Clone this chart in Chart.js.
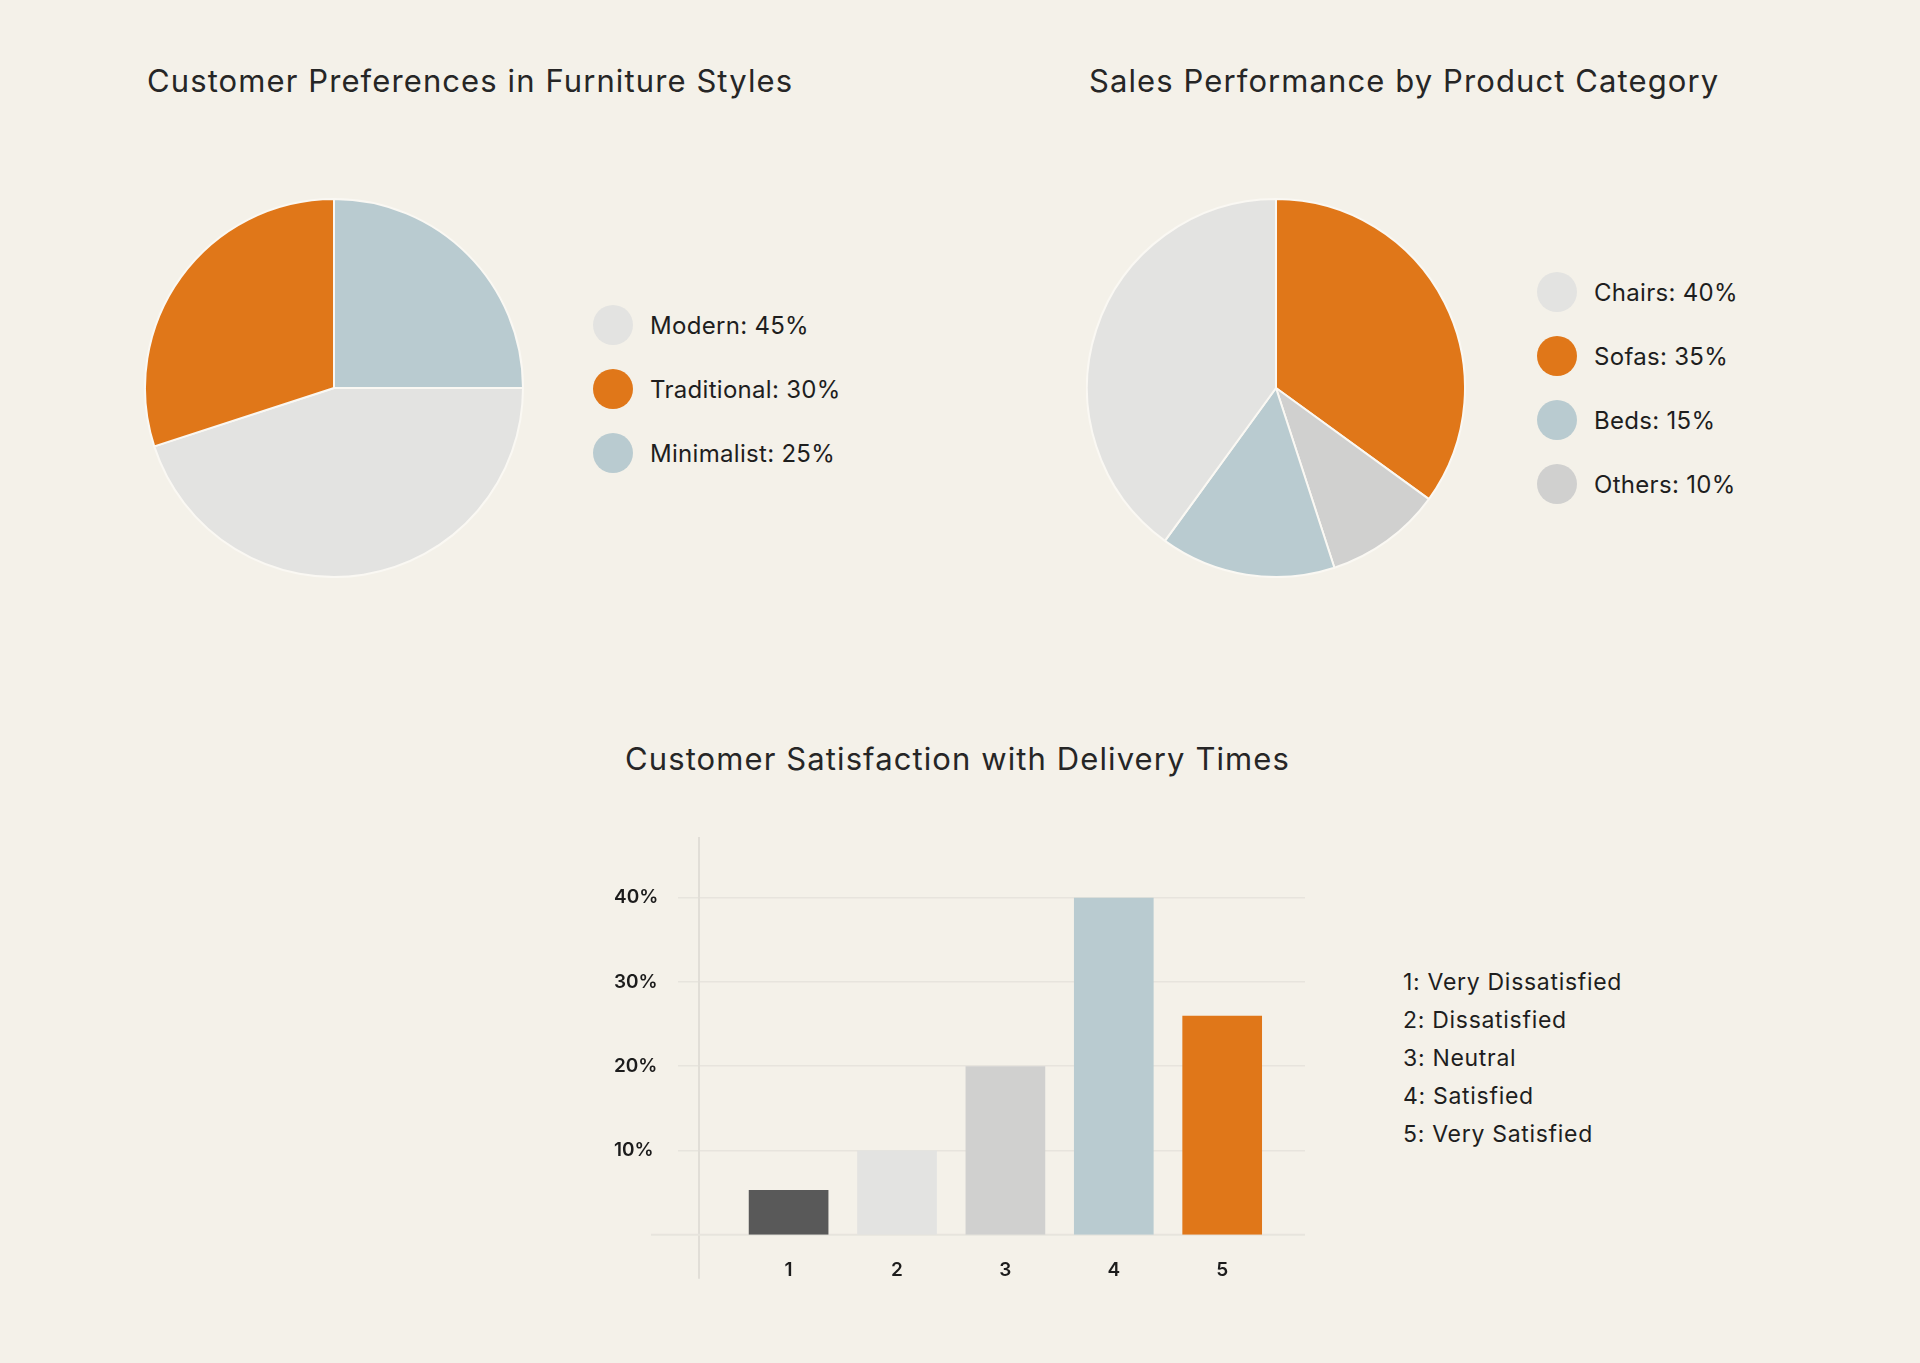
<!DOCTYPE html>
<html>
<head>
<meta charset="utf-8">
<title>Furniture Customer Insights</title>
<script src="https://cdn.jsdelivr.net/npm/chart.js@4.4.1/dist/chart.umd.min.js"></script>
<style>
    html, body { margin: 0; padding: 0; }
    body {
        width: 1920px; height: 1363px; position: relative; overflow: hidden;
        background: #f4f1e9; color: #1e1e1e;
        font-family: Inter, "Noto Sans", sans-serif;
    }
    .title { position: absolute; font-size: 31px; letter-spacing: 1.1px; line-height: 40px; color: #262626; white-space: nowrap; }
    .chart-box { position: absolute; }
    .legend { position: absolute; }
    .legend-item { display: flex; align-items: center; height: 40px; margin-bottom: 24px; font-size: 24px; letter-spacing: 0.3px; white-space: nowrap; }
    .legend-dot { width: 40px; height: 40px; border-radius: 50%; margin-right: 17px; flex: none; }
    .text-legend { position: absolute; font-size: 23px; letter-spacing: 0.7px; line-height: 38px; white-space: nowrap; }
</style>
</head>
<body>

<div class="title" style="left:147px; top:61px;">Customer Preferences in Furniture Styles</div>
<div class="chart-box" style="left:144px; top:198px;"><canvas id="cvStyles" width="380" height="380"></canvas></div>
<div class="legend" id="lgStyles" style="left:593px; top:305px;"></div>

<div class="title" style="left:1089px; top:61px;">Sales Performance by Product Category</div>
<div class="chart-box" style="left:1086px; top:198px;"><canvas id="cvCategories" width="380" height="380"></canvas></div>
<div class="legend" id="lgCategories" style="left:1537px; top:272px;"></div>

<div class="title" style="left:625px; top:739px;">Customer Satisfaction with Delivery Times</div>
<div class="chart-box" style="left:600px; top:820px;"><canvas id="cvSatisfaction" width="720" height="480"></canvas></div>
<div class="text-legend" id="lgSatisfaction" style="left:1403px; top:963px;"></div>

<script>
// furniture styles
const styleLabels = ['Modern', 'Traditional', 'Minimalist'];
const styleShares = [45, 30, 25];
const styleColors = ['#e3e3e1', '#e07719', '#b9cbd0'];

// product categories (legend order)
const categoryLabels = ['Chairs', 'Sofas', 'Beds', 'Others'];
const categoryShares = [40, 35, 15, 10];
const categoryColors = ['#e3e3e1', '#e07719', '#b9cbd0', '#d0d0cf'];
// order the slices go round the pie, clockwise from 12 o'clock
const categoryDrawOrder = [1, 3, 2, 0];

// delivery satisfaction
const satisfactionLevels = [1, 2, 3, 4, 5];
const satisfactionNames = ['Very Dissatisfied', 'Dissatisfied', 'Neutral', 'Satisfied', 'Very Satisfied'];
const satisfactionShares = [5.3, 10, 20, 40, 26];
const satisfactionColors = ['#595959', '#e3e3e1', '#d0d0cf', '#b9cbd0', '#e07719'];
const satisfactionTicks = [10, 20, 30, 40];

const GRID_COLOR = '#e7e4dd';
const AXIS_COLOR = '#e1ded7';

Chart.defaults.font.family = 'Inter, "Noto Sans", sans-serif';
Chart.defaults.color = '#1e1e1e';
Chart.defaults.animation = false;

function buildLegend(containerId, labels, values, colors) {
    let container = document.getElementById(containerId);
    labels.forEach((label, i) => {
        let item = document.createElement('div');
        item.classList.add('legend-item');
        let dot = document.createElement('span');
        dot.classList.add('legend-dot');
        dot.style.background = colors[i];
        let text = document.createElement('span');
        text.textContent = label + ': ' + values[i] + '%';
        item.appendChild(dot);
        item.appendChild(text);
        container.appendChild(item);
    });
}

function drawPie(canvasId, labels, values, colors, rotation) {
    return new Chart(document.getElementById(canvasId), {
        type: 'pie',
        data: {
            labels: labels,
            datasets: [{
                data: values,
                backgroundColor: colors,
                borderColor: '#faf8f3',
                borderWidth: 2,
                hoverOffset: 0
            }]
        },
        options: {
            responsive: false,
            rotation: rotation,
            layout: { padding: 0 },
            plugins: {
                legend: { display: false },
                tooltip: { enabled: false }
            }
        }
    });
}

// axis line and baseline of the bar chart stick out past the plot area
const axisLines = {
    id: 'axisLines',
    beforeDatasetsDraw(chart) {
        const { ctx, chartArea, scales } = chart;
        const y0 = scales.y.getPixelForValue(0);
        ctx.save();
        ctx.strokeStyle = AXIS_COLOR;
        ctx.lineWidth = 2;
        ctx.beginPath();
        ctx.moveTo(chartArea.left, chartArea.top);
        ctx.lineTo(chartArea.left, chartArea.bottom + 44);
        ctx.stroke();
        ctx.strokeStyle = GRID_COLOR;
        ctx.beginPath();
        ctx.moveTo(chartArea.left - 48, y0);
        ctx.lineTo(chartArea.right, y0);
        ctx.stroke();
        ctx.restore();
    }
};

function drawSatisfaction() {
    let points = satisfactionLevels.map((level, i) => ({ x: level, y: satisfactionShares[i] }));
    return new Chart(document.getElementById('cvSatisfaction'), {
        type: 'bar',
        data: {
            datasets: [{
                data: points,
                backgroundColor: satisfactionColors,
                borderWidth: 0,
                barPercentage: 0.735,
                categoryPercentage: 1
            }]
        },
        options: {
            responsive: false,
            layout: { padding: { left: 14, right: 15, top: 17, bottom: 0 } },
            plugins: {
                legend: { display: false },
                tooltip: { enabled: false }
            },
            scales: {
                x: {
                    type: 'linear',
                    offset: false,
                    min: 0.1734,
                    max: 5.764,
                    grid: { display: false, offset: false },
                    border: { display: false },
                    afterBuildTicks: (scale) => {
                        scale.ticks = satisfactionLevels.map((v) => ({ value: v }));
                    },
                    afterFit: (scale) => { scale.height = 65.3; },
                    ticks: {
                        padding: 16,
                        font: { size: 19, weight: '600' },
                        color: '#1c1c1c'
                    }
                },
                y: {
                    min: 0,
                    max: 47.2,
                    border: { display: false },
                    grid: {
                        color: GRID_COLOR,
                        lineWidth: 1.5,
                        drawTicks: true,
                        tickLength: 21,
                        tickColor: GRID_COLOR
                    },
                    afterBuildTicks: (scale) => {
                        scale.ticks = satisfactionTicks.map((v) => ({ value: v }));
                    },
                    afterFit: (scale) => { scale.width = 85; },
                    ticks: {
                        crossAlign: 'far',
                        font: { size: 19, weight: '600' },
                        color: '#1c1c1c',
                        callback: (value) => value + '%'
                    }
                }
            }
        },
        plugins: [axisLines]
    });
}

function buildTextLegend() {
    let container = document.getElementById('lgSatisfaction');
    satisfactionLevels.forEach((level, i) => {
        let line = document.createElement('div');
        line.textContent = level + ': ' + satisfactionNames[i];
        container.appendChild(line);
    });
}

drawPie('cvStyles', styleLabels, styleShares, styleColors, 90);
buildLegend('lgStyles', styleLabels, styleShares, styleColors);

drawPie('cvCategories',
    categoryDrawOrder.map((i) => categoryLabels[i]),
    categoryDrawOrder.map((i) => categoryShares[i]),
    categoryDrawOrder.map((i) => categoryColors[i]),
    0);
buildLegend('lgCategories', categoryLabels, categoryShares, categoryColors);

drawSatisfaction();
buildTextLegend();
</script>
</body>
</html>
